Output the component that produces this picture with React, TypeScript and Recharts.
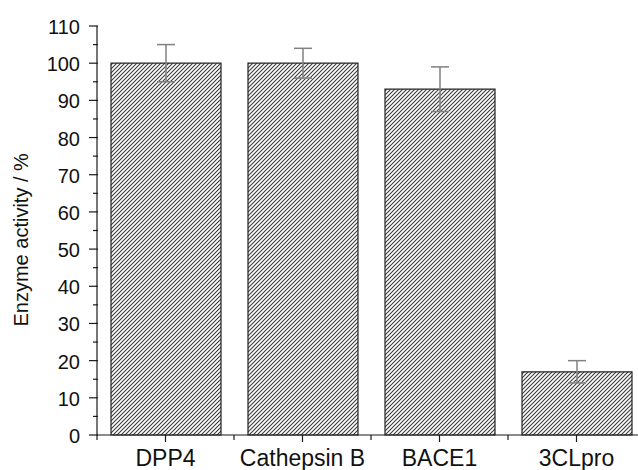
import { BarChart, Bar, XAxis, YAxis, ErrorBar } from "recharts";

const categories = ["DPP4", "Cathepsin B", "BACE1", "3CLpro"];
const activity = [100, 100, 93, 17];
const errorUp = [5, 4, 6, 3];
const yTicks = [0, 5, 10, 15, 20, 25, 30, 35, 40, 45, 50, 55, 60, 65, 70, 75, 80, 85, 90, 95, 100, 105, 110];

const data = categories.map((name, i) => ({
  name,
  value: activity[i],
  err: errorUp[i],
}));

const CHART_W = 645;
const CHART_H = 470;
const YAXIS_W = 97;
const BAND = (CHART_W - YAXIS_W) / categories.length;
const FONT = "'Liberation Sans', Arial, sans-serif";
const AXIS = "#1a1a1a";

const YTick = ({ x, y, payload }: any) => {
  const major = payload.value % 10 === 0;
  return (
    <g>
      <line x1={x + (major ? 0 : 4)} x2={x + 9} y1={y} y2={y} stroke={AXIS} strokeWidth={1.2} />
      {major && (
        <text x={x - 9} y={y} dy={8} textAnchor="end" fontSize={20} fontFamily={FONT} fill="#111">
          {payload.value}
        </text>
      )}
    </g>
  );
};

// tick y arrives below the axis line (axis + tick size + margin)
const XTick = ({ x, y, payload, index }: any) => {
  const last = index === categories.length - 1;
  const top = y - 8;
  return (
    <g>
      <line x1={x} x2={x} y1={top} y2={top + 7} stroke={AXIS} strokeWidth={1.2} />
      <line x1={x - BAND / 2} x2={x - BAND / 2} y1={top} y2={top + 5} stroke={AXIS} strokeWidth={1.2} />
      {last && <line x1={x + BAND / 2} x2={x + BAND / 2} y1={top} y2={top + 5} stroke={AXIS} strokeWidth={1.2} />}
      <text x={x} y={top} dy={31} textAnchor="middle" fontSize={23} fontFamily={FONT} fill="#111">
        {payload.value}
      </text>
    </g>
  );
};

export default function App() {
  return (
    <div style={{ position: "fixed", left: 0, top: 0, width: 638, height: 470, overflow: "hidden", background: "#fff" }}>
      <BarChart width={CHART_W} height={CHART_H} data={data} margin={{ top: 26, right: 0, left: 0, bottom: 0 }}>
        <defs>
          <pattern id="hatch" patternUnits="userSpaceOnUse" width={4} height={4}>
            <path d="M-1,1 l2,-2 M0,4 l4,-4 M3,5 l2,-2" stroke="#3a3a3a" strokeWidth={1.1} />
          </pattern>
        </defs>
        <XAxis
          dataKey="name"
          height={35}
          axisLine={{ stroke: AXIS, strokeWidth: 1.2 }}
          tickLine={false}
          tick={<XTick />}
          interval={0}
        />
        <YAxis
          width={YAXIS_W}
          domain={[0, 110]}
          ticks={yTicks}
          interval={0}
          axisLine={{ stroke: AXIS, strokeWidth: 1.2 }}
          tickLine={false}
          tick={<YTick />}
          label={{
            value: "Enzyme activity / %",
            angle: -90,
            position: "insideLeft",
            dx: 16,
            dy: 96,
            style: { fontSize: 20, fontFamily: FONT, fill: "#111" },
          }}
        />
        <Bar dataKey="value" barSize={110} fill="url(#hatch)" stroke="#222" strokeWidth={1.2} isAnimationActive={false}>
          <ErrorBar dataKey="err" width={9} stroke="#808080" strokeWidth={1.5} direction="y" />
        </Bar>
      </BarChart>
    </div>
  );
}
